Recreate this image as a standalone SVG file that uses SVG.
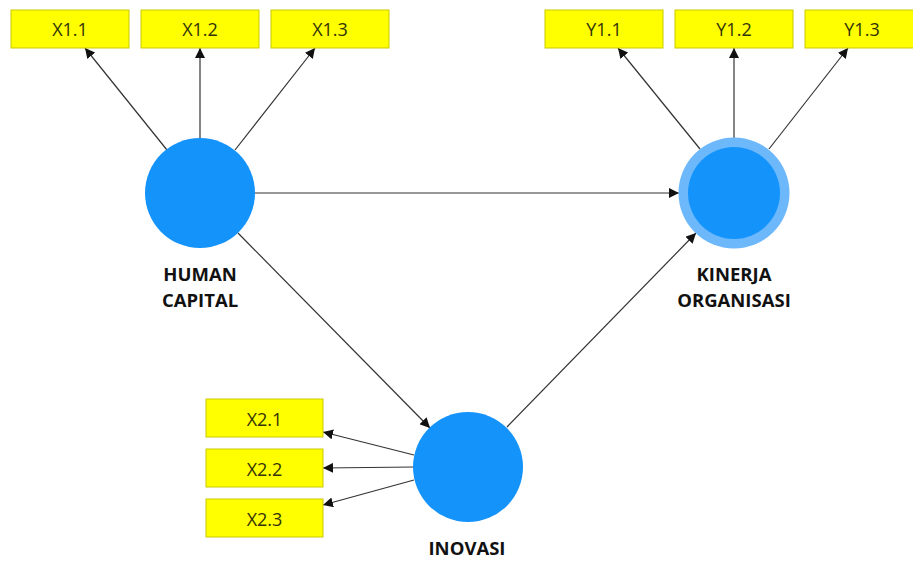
<svg xmlns="http://www.w3.org/2000/svg" width="913" height="561" viewBox="0 0 913 561">
<style>
.box{fill:#ffff00;stroke:#c9c900;stroke-width:1}
.bt{font-family:"Open Sans","DejaVu Sans",sans-serif;font-size:18px;fill:#33330a;text-anchor:middle}
.lv{fill:#1493fb}
.lbl{font-family:"Open Sans","DejaVu Sans",sans-serif;font-size:18.5px;font-weight:bold;fill:#111;text-anchor:middle}
.c{stroke:#333;stroke-width:1.2;fill:none;marker-end:url(#ah)}
</style>
<defs>
<marker id="ah" viewBox="0 0 10 10" refX="10" refY="5" markerWidth="10" markerHeight="10" markerUnits="userSpaceOnUse" orient="auto">
<path d="M0,0 L10,5 L0,10 z" fill="#111"/>
</marker>
</defs>
<rect width="913" height="561" fill="#fff"/>
<g id="connectors">
<line class="c" x1="167" y1="150" x2="85" y2="48"/>
<line class="c" x1="200" y1="138" x2="200" y2="48"/>
<line class="c" x1="235" y1="150" x2="315" y2="48"/>
<line class="c" x1="700" y1="149" x2="618" y2="48"/>
<line class="c" x1="734" y1="138" x2="734" y2="48"/>
<line class="c" x1="769" y1="149" x2="848" y2="48"/>
<line class="c" x1="255" y1="193" x2="679" y2="193"/>
<line class="c" x1="238" y1="233" x2="430" y2="428"/>
<line class="c" x1="507" y1="427" x2="696" y2="233"/>
<line class="c" x1="414" y1="455" x2="323" y2="432"/>
<line class="c" x1="414" y1="467" x2="323" y2="468"/>
<line class="c" x1="414" y1="480" x2="323" y2="505"/>
</g>
<g id="X1.1"><rect class="box" x="11" y="10" width="118" height="38"/><text class="bt" x="70" y="36">X1.1</text></g>
<g id="X1.2"><rect class="box" x="141" y="10" width="118" height="38"/><text class="bt" x="200" y="36">X1.2</text></g>
<g id="X1.3"><rect class="box" x="271" y="10" width="118" height="38"/><text class="bt" x="330" y="36">X1.3</text></g>
<g id="Y1.1"><rect class="box" x="545" y="10" width="118" height="38"/><text class="bt" x="604" y="36">Y1.1</text></g>
<g id="Y1.2"><rect class="box" x="675" y="10" width="118" height="38"/><text class="bt" x="734" y="36">Y1.2</text></g>
<g id="Y1.3"><rect class="box" x="805" y="10" width="118" height="38"/><text class="bt" x="862" y="36">Y1.3</text></g>
<g id="X2.1"><rect class="box" x="206" y="399" width="117" height="38"/><text class="bt" x="264.5" y="426">X2.1</text></g>
<g id="X2.2"><rect class="box" x="206" y="449" width="117" height="38"/><text class="bt" x="264.5" y="476">X2.2</text></g>
<g id="X2.3"><rect class="box" x="206" y="499" width="117" height="38"/><text class="bt" x="264.5" y="526">X2.3</text></g>
<g id="human-capital"><circle class="lv" cx="200" cy="193" r="55"/><text class="lbl" x="200" y="281">HUMAN</text><text class="lbl" x="200" y="307">CAPITAL</text></g>
<g id="kinerja-organisasi"><circle cx="734" cy="193" r="55.5" fill="#6cb8fb"/><circle class="lv" cx="734" cy="193" r="46"/><text class="lbl" x="734" y="281">KINERJA</text><text class="lbl" x="734" y="307">ORGANISASI</text></g>
<g id="inovasi"><circle class="lv" cx="468" cy="467" r="55"/><text class="lbl" x="467" y="555">INOVASI</text></g>
</svg>
